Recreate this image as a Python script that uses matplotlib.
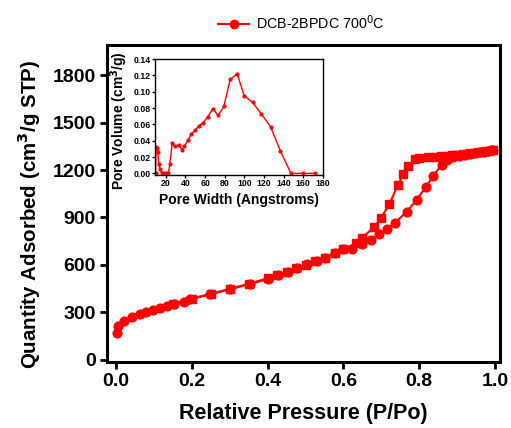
import matplotlib
matplotlib.use("Agg")
import matplotlib.pyplot as plt
from matplotlib.lines import Line2D

plt.rcParams['font.family'] = ['Liberation Sans', 'DejaVu Sans']

# Adsorption branch (circles)
p_ads = [0.002, 0.006, 0.021, 0.041, 0.062, 0.078, 0.097, 0.116, 0.134, 0.153,
         0.178, 0.195, 0.248, 0.301, 0.354, 0.402, 0.428, 0.454, 0.477, 0.503,
         0.530, 0.551, 0.578, 0.600, 0.622, 0.648, 0.672, 0.695, 0.714, 0.736,
         0.767, 0.793, 0.818, 0.837, 0.859, 0.874, 0.890, 0.905, 0.920, 0.935,
         0.948, 0.960, 0.970, 0.980, 0.988, 0.995]
q_ads = [168, 215, 248, 270, 288, 305, 316, 330, 343, 351,
         368, 383, 415, 447, 480, 512, 537, 557, 579, 604,
         625, 646, 674, 699, 699, 731, 758, 796, 827, 867,
         937, 1011, 1095, 1164, 1232, 1263, 1280, 1290, 1297, 1303,
         1308, 1313, 1317, 1321, 1324, 1327]

# Desorption branch (squares)
p_des = [0.995, 0.985, 0.975, 0.965, 0.955, 0.945, 0.935, 0.925, 0.915, 0.905,
         0.895, 0.885, 0.872, 0.858, 0.842, 0.822, 0.800, 0.789, 0.771, 0.758,
         0.743, 0.721, 0.699, 0.681, 0.648, 0.633, 0.600, 0.578, 0.550, 0.525,
         0.500, 0.475, 0.450, 0.425, 0.400, 0.350, 0.300, 0.250, 0.200, 0.150]
q_des = [1327, 1323, 1320, 1316, 1313, 1310, 1307, 1304, 1301, 1298,
         1295, 1292, 1289, 1286, 1283, 1280, 1275, 1268, 1228, 1173,
         1103, 983, 899, 840, 769, 737, 701, 676, 647, 623,
         601, 580, 556, 535, 515, 482, 449, 417, 388, 356]

# Pore size distribution (inset)
pore_w = [9.6, 10.0, 11.0, 11.8, 12.9, 14.2, 15.9, 17.5, 19.2, 20.9, 22.6,
          24.1, 26.5, 29.2, 33.2, 36.3, 38.7, 42.8, 45.8, 49.9, 53.6, 58.0,
          62.5, 67.9, 73.3, 79.1, 85.6, 92.7, 99.8, 108.3, 117.1, 126.7,
          136.5, 147.4, 159.6, 172.2]
pore_v = [0.0, 0.032, 0.031, 0.026, 0.011, 0.005, 0.0, 0.0, 0.0, 0.0, 0.0,
          0.011, 0.037, 0.033, 0.035, 0.029, 0.033, 0.041, 0.048, 0.053, 0.058,
          0.062, 0.069, 0.079, 0.071, 0.082, 0.115, 0.122, 0.095, 0.087, 0.073,
          0.057, 0.028, 0.0, 0.0, 0.0]

x_ticks = [0.0, 0.2, 0.4, 0.6, 0.8, 1.0]
y_ticks = [0, 300, 600, 900, 1200, 1500, 1800]
ix_ticks = [20, 40, 60, 80, 100, 120, 140, 160, 180]
iy_ticks = [0.00, 0.02, 0.04, 0.06, 0.08, 0.10, 0.12, 0.14]

red = '#ff0000'

fig = plt.figure(figsize=(5.11, 4.28), dpi=100)
ax = fig.add_axes([0.2094, 0.1542, 0.7691, 0.7407])

ax.plot(p_ads, q_ads, color=red, lw=1.5, marker='o', ms=6.3, mec=red, mfc=red)
ax.plot(p_des, q_des, color=red, lw=1.5, marker='s', ms=5.8, mec=red, mfc=red)

ax.set_xlim(-0.024, 1.013)
ax.set_ylim(-13, 1990)
ax.set_xticks(x_ticks)
ax.set_xticklabels([f"{v:.1f}" for v in x_ticks])
ax.set_yticks(y_ticks)
ax.set_yticklabels([str(v) for v in y_ticks])
for s in ax.spines.values():
    s.set_linewidth(2.2)
ax.tick_params(direction='out', length=5, width=2, labelsize=14, pad=3)
for lab in ax.get_xticklabels() + ax.get_yticklabels():
    lab.set_fontweight('bold')
ax.set_xlabel('Relative Pressure (P/Po)', fontsize=15.5, fontweight='bold', labelpad=9)
ax.set_ylabel('Quantity Adsorbed (cm$\\mathbf{^3}$/g STP)', fontsize=14.8,
              fontweight='bold')
ax.yaxis.set_label_coords(-0.162, 0.465)

handle = Line2D([], [], color=red, lw=1.5, marker='o', ms=6, mec=red, mfc=red)
fig.legend([handle], ['DCB-2BPDC 700$^0$C'], loc='center', bbox_to_anchor=(0.59, 0.948),
           frameon=False, fontsize=10.3, handlelength=2.2, handletextpad=0.5)

# Inset: pore width distribution
ins = fig.add_axes([0.3033, 0.5911, 0.3287, 0.2710])
ins.plot(pore_w, pore_v, color=red, lw=1.0, marker='o', ms=2, mec=red, mfc=red)
ins.set_xlim(9, 180)
ins.set_ylim(-0.002, 0.14)
ins.set_xticks(ix_ticks)
ins.set_yticks(iy_ticks)
ins.set_yticklabels([f"{v:.2f}" for v in iy_ticks])
for s in ins.spines.values():
    s.set_linewidth(1.0)
ins.tick_params(direction='out', length=2, width=1, labelsize=6.3, pad=1.2)
for lab in ins.get_xticklabels() + ins.get_yticklabels():
    lab.set_fontweight('bold')
ins.set_xlabel('Pore Width (Angstroms)', fontsize=10, fontweight='bold', labelpad=3)
ins.set_ylabel('Pore Volume (cm$\\mathbf{^3}$/g)', fontsize=10, fontweight='bold')
ins.yaxis.set_label_coords(-0.15, 0.47)

fig.savefig('out.png', dpi=100)
